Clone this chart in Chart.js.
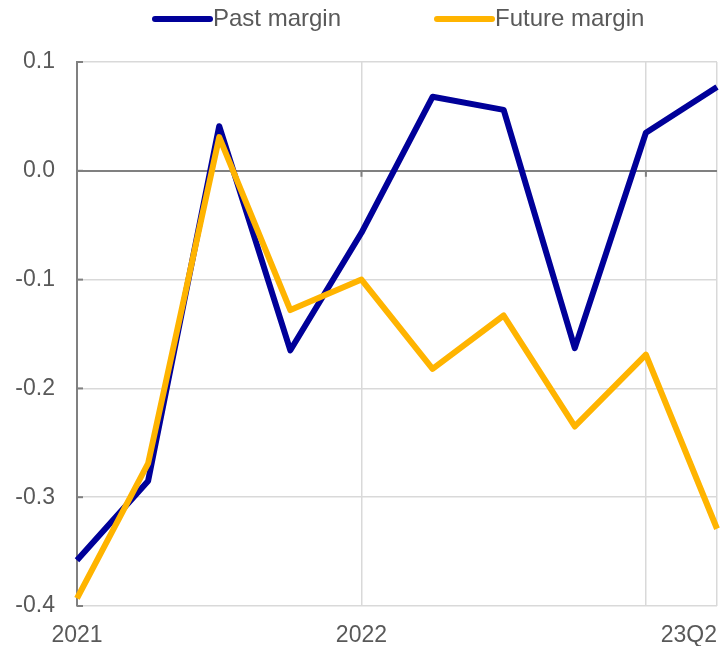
<!DOCTYPE html>
<html>
<head>
<meta charset="utf-8">
<script src="https://cdn.jsdelivr.net/npm/chart.js@4/dist/chart.umd.min.js"></script>
<style>
  html, body { margin: 0; padding: 0; background: #fff; }
  #wrap { width: 720px; height: 646px; position: relative; }
</style>
</head>
<body>
<div id="wrap"><canvas id="marginChart"></canvas></div>
<script>
// Quarters, 2021Q1 to 2023Q2
const quarters = ['21Q1', '21Q2', '21Q3', '21Q4', '22Q1', '22Q2', '22Q3', '22Q4', '23Q1', '23Q2'];
const pastMargin = [-0.358, -0.285, 0.041, -0.165, -0.057, 0.068, 0.056, -0.163, 0.035, 0.077];
const futureMargin = [-0.393, -0.269, 0.031, -0.128, -0.100, -0.182, -0.133, -0.235, -0.169, -0.329];
const yTicks = [0.1, 0.0, -0.1, -0.2, -0.3, -0.4];
// x-axis labels shown under the chart (index -> text)
const xLabels = { 0: '2021', 4: '2022', 9: '23Q2' };
const xGridAt = [4, 8, 9];

const FONT = "'Liberation Sans', Arial, sans-serif";
const TEXT = '#595959';
const AXIS = '#808080';
const GRID = '#d9d9d9';

// Legend, tick marks and x labels in the original chart's style
const extras = {
  id: 'extras',
  afterDraw(chart) {
    const { ctx, chartArea } = chart;
    const x = chart.scales.x, y = chart.scales.y;
    const zeroY = y.getPixelForValue(0);
    ctx.save();

    // small tick marks
    ctx.strokeStyle = AXIS;
    ctx.lineWidth = 2;
    yTicks.forEach(v => {
      const py = y.getPixelForValue(v);
      ctx.beginPath();
      ctx.moveTo(chartArea.left, py);
      ctx.lineTo(chartArea.left + 6, py);
      ctx.stroke();
    });
    [4, 8].forEach(i => {
      const px = x.getPixelForValue(i);
      ctx.beginPath();
      ctx.moveTo(px, zeroY);
      ctx.lineTo(px, zeroY + 6);
      ctx.stroke();
    });

    // x labels
    ctx.font = '23px ' + FONT;
    ctx.fillStyle = TEXT;
    ctx.textBaseline = 'middle';
    Object.keys(xLabels).forEach(k => {
      const i = Number(k);
      const last = i === quarters.length - 1;
      ctx.textAlign = last ? 'right' : 'center';
      ctx.fillText(xLabels[k], last ? chartArea.right : x.getPixelForValue(i), chartArea.bottom + 30);
    });

    // legend
    const legendX = [155, 437];
    ctx.font = '24px ' + FONT;
    chart.data.datasets.forEach((ds, i) => {
      const lx = legendX[i];
      ctx.strokeStyle = ds.borderColor;
      ctx.lineWidth = 6;
      ctx.lineCap = 'round';
      ctx.beginPath();
      ctx.moveTo(lx, 19);
      ctx.lineTo(lx + 55, 19);
      ctx.stroke();
      ctx.textAlign = 'left';
      ctx.fillStyle = TEXT;
      ctx.fillText(ds.label, lx + 58, 19);
    });
    ctx.restore();
  }
};

const ctx = document.getElementById('marginChart').getContext('2d');
new Chart(ctx, {
  type: 'line',
  data: {
    labels: quarters,
    datasets: [
      {
        label: 'Past margin',
        data: pastMargin,
        borderColor: '#000099',
        backgroundColor: '#000099',
        borderWidth: 6,
        pointRadius: 0,
        tension: 0,
        borderJoinStyle: 'round',
        order: 1
      },
      {
        label: 'Future margin',
        data: futureMargin,
        borderColor: '#ffb400',
        backgroundColor: '#ffb400',
        borderWidth: 6,
        pointRadius: 0,
        tension: 0,
        borderJoinStyle: 'round',
        order: 0
      }
    ]
  },
  options: {
    responsive: true,
    maintainAspectRatio: false,
    animation: false,
    layout: { padding: { top: 62, right: 3, bottom: 40, left: 0 } },
    plugins: {
      legend: { display: false },
      tooltip: { enabled: false }
    },
    scales: {
      x: {
        offset: false,
        ticks: { display: false },
        border: { display: false },
        grid: {
          drawTicks: false,
          color: c => xGridAt.includes(c.index) ? GRID : 'rgba(0,0,0,0)',
          lineWidth: 1.5
        }
      },
      y: {
        min: -0.4,
        max: 0.1,
        afterFit: scale => { scale.width = 77; },
        afterBuildTicks: scale => { scale.ticks = yTicks.map(v => ({ value: v })); },
        ticks: {
          padding: 22,
          color: TEXT,
          font: { family: FONT, size: 23 },
          callback: v => Number(v).toFixed(1)
        },
        border: { color: AXIS, width: 2 },
        grid: {
          drawTicks: false,
          color: c => (c.tick && Math.abs(c.tick.value) < 1e-9) ? AXIS : GRID,
          lineWidth: c => (c.tick && Math.abs(c.tick.value) < 1e-9) ? 2 : 1.5
        }
      }
    }
  },
  plugins: [extras]
});
</script>
</body>
</html>
